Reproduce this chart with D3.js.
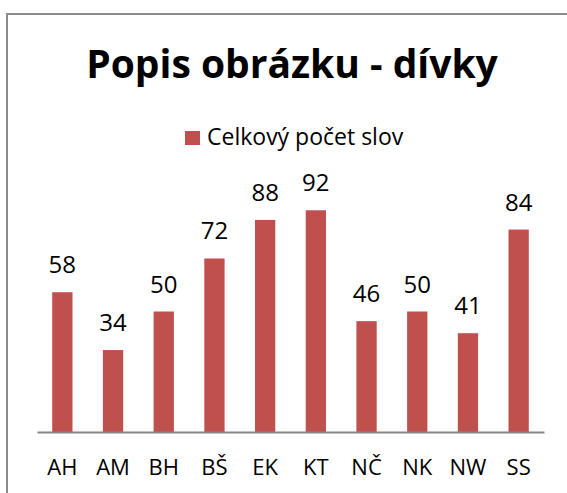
<!DOCTYPE html>
<html lang="cs">
<head>
    <meta charset="UTF-8">
    <title>Popis obrázku - dívky</title>
    <script src="https://cdn.jsdelivr.net/npm/d3@7"></script>
    <style>
        body { margin: 0; background: #fff; }
        text { font-family: "Open Sans", "Noto Sans", sans-serif; fill: #000; }
        .title { font-size: 39px; font-weight: bold; }
        .value-label { font-size: 24px; }
        .cat-label { font-size: 22px; }
        .legend-text { font-size: 23px; }
    </style>
</head>
<body>
    <svg width="567" height="493" id="chart"></svg>
    <script>
        const categories = ["AH", "AM", "BH", "BŠ", "EK", "KT", "NČ", "NK", "NW", "SS"];
        const values = [58, 34, 50, 72, 88, 92, 46, 50, 41, 84];
        const seriesName = "Celkový počet slov";
        const titleText = "Popis obrázku - dívky";

        const svg = d3.select("#chart"),
              width = +svg.attr("width"),
              height = +svg.attr("height");

        const barColor = "#C0504D";

        // chart frame (right and bottom edges fall outside the view)
        svg.append("rect")
            .attr("x", 7)
            .attr("y", 14)
            .attr("width", 600)
            .attr("height", 520)
            .attr("fill", "none")
            .attr("stroke", "#8c8c8c")
            .attr("stroke-width", 2);

        const margin = {left: 37, right: 23, top: 191, bottom: 61};

        const x = d3.scaleBand()
            .domain(categories)
            .range([margin.left, width - margin.right])
            .paddingInner(0.6)
            .paddingOuter(0.3);

        const y = d3.scaleLinear()
            .domain([0, 100])
            .range([height - margin.bottom, margin.top]);

        const data = categories.map((c, i) => ({cat: c, val: values[i]}));

        // bars
        svg.selectAll(".bar")
            .data(data)
            .enter().append("rect")
            .attr("class", "bar")
            .attr("x", d => x(d.cat))
            .attr("y", d => y(d.val))
            .attr("width", x.bandwidth())
            .attr("height", d => y(0) - y(d.val))
            .attr("fill", barColor);

        // value labels
        svg.selectAll(".value-label")
            .data(data)
            .enter().append("text")
            .attr("class", "value-label")
            .attr("x", d => x(d.cat) + x.bandwidth() / 2)
            .attr("y", d => y(d.val) - 19)
            .attr("text-anchor", "middle")
            .text(d => d.val);

        // x axis
        const xAxis = d3.axisBottom(x).tickSize(0).tickPadding(0);
        const xAxisG = svg.append("g")
            .attr("transform", `translate(0, ${y(0)})`)
            .call(xAxis);
        xAxisG.select(".domain")
            .attr("stroke", "#868686")
            .attr("stroke-width", 2);
        xAxisG.selectAll(".tick text")
            .attr("class", "cat-label")
            .attr("font-family", null)
            .attr("font-size", null)
            .attr("fill", "#000")
            .attr("dy", 0)
            .attr("y", 43);

        // title
        svg.append("text")
            .attr("class", "title")
            .attr("x", 292)
            .attr("y", 78)
            .attr("text-anchor", "middle")
            .text(titleText);

        // legend
        svg.append("rect")
            .attr("x", 185)
            .attr("y", 131)
            .attr("width", 15)
            .attr("height", 14)
            .attr("fill", barColor);

        svg.append("text")
            .attr("class", "legend-text")
            .attr("x", 207)
            .attr("y", 145)
            .text(seriesName);
    </script>
</body>
</html>
